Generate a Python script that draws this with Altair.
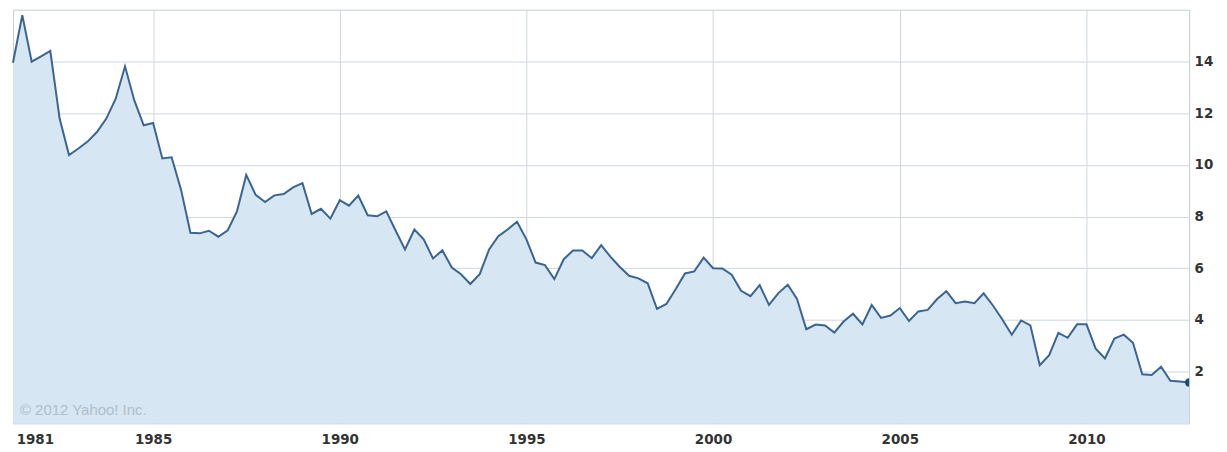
import altair as alt
import pandas as pd

# Quarterly values, Apr 1981 .. Oct 2012
values = [
    13.95, 15.79, 13.99, 14.20, 14.41, 11.80, 10.38, 10.63, 10.90, 11.27,
    11.79, 12.56, 13.81, 12.49, 11.53, 11.62, 10.25, 10.29, 9.04, 7.37,
    7.35, 7.45, 7.22, 7.47, 8.20, 9.61, 8.84, 8.56, 8.82, 8.87,
    9.13, 9.29, 8.10, 8.30, 7.92, 8.63, 8.42, 8.81, 8.05, 8.01,
    8.20, 7.46, 6.73, 7.50, 7.12, 6.38, 6.69, 6.03, 5.77, 5.39,
    5.77, 6.73, 7.24, 7.50, 7.80, 7.12, 6.22, 6.12, 5.58, 6.35,
    6.69, 6.69, 6.39, 6.89, 6.45, 6.06, 5.71, 5.61, 5.42, 4.43,
    4.62, 5.20, 5.80, 5.88, 6.41, 6.00, 5.99, 5.75, 5.13, 4.92,
    5.35, 4.58, 5.04, 5.36, 4.81, 3.64, 3.82, 3.79, 3.51, 3.94,
    4.24, 3.83, 4.58, 4.08, 4.17, 4.46, 3.96, 4.33, 4.39, 4.81,
    5.11, 4.65, 4.71, 4.65, 5.03, 4.56, 4.02, 3.43, 3.98, 3.79,
    2.25, 2.64, 3.50, 3.31, 3.83, 3.83, 2.89, 2.51, 3.28, 3.43,
    3.12, 1.90, 1.87, 2.19, 1.65, 1.62, 1.58,
]
dates = pd.date_range("1981-04-01", periods=len(values), freq="QS")
y_ticks = [2, 4, 6, 8, 10, 12, 14]
x_tick_years = [1981, 1985, 1990, 1995, 2000, 2005, 2010]
copyright_text = "\u00a9 2012 Yahoo! Inc."

df = pd.DataFrame({"date": dates, "value": values})
last = df.tail(1)

GRID = "#cdd7e0"
LINE = "#3a6593"
FILL = "#d6e6f2"
LABEL = "#333333"

x_values = [
    alt.DateTime(year=y, month=11 if y == 1981 else 1, date=1) for y in x_tick_years
]

x_enc = alt.X(
    "date:T",
    scale=alt.Scale(domain=[alt.DateTime(year=1981, month=4, date=1),
                            alt.DateTime(year=2012, month=10, date=1)]),
    axis=alt.Axis(
        values=x_values,
        format="%Y",
        title=None,
        grid=True,
        gridColor={"condition": {"test": "year(datum.value) == 1981", "value": "transparent"},
                   "value": GRID},
        gridWidth=1,
        ticks=False,
        domain=False,
        labelFont="DejaVu Sans",
        labelFontWeight="bold",
        labelFontSize=13.5,
        labelColor=LABEL,
        labelPadding=9,
        labelFlush=False,
    ),
)
y_enc = alt.Y(
    "value:Q",
    scale=alt.Scale(domain=[0, 16], nice=False),
    axis=alt.Axis(
        orient="right",
        values=y_ticks,
        title=None,
        grid=True,
        gridColor=GRID,
        gridWidth=1,
        ticks=False,
        domain=False,
        labelFont="DejaVu Sans",
        labelFontWeight="bold",
        labelFontSize=13.5,
        labelColor=LABEL,
        labelPadding=5,
        labelAlign="left",
    ),
)

area = alt.Chart(df).mark_area(color=FILL, opacity=1).encode(x=x_enc, y=y_enc)
line = alt.Chart(df).mark_line(color=LINE, strokeWidth=2).encode(x="date:T", y="value:Q")
point = alt.Chart(last).mark_point(
    filled=True, color="#1d4a78", size=70, opacity=1, clip=True
).encode(x="date:T", y="value:Q")
text = alt.Chart(pd.DataFrame({"t": [copyright_text]})).mark_text(
    align="left", baseline="middle", font="Liberation Sans", fontSize=15,
    color="#b0bfcc"
).encode(text="t:N", x=alt.value(7), y=alt.value(402))

chart = alt.layer(area, line, point, text).properties(
    width=1180,
    height=415,
    padding={"left": 5, "top": 1, "right": 30, "bottom": 30},
    autosize=alt.AutoSizeParams(type="none"),
    background="white",
).configure_view(stroke="#c3cdd7", strokeWidth=1)

chart.save("out.html", embed_options={"renderer": "svg", "actions": False})
